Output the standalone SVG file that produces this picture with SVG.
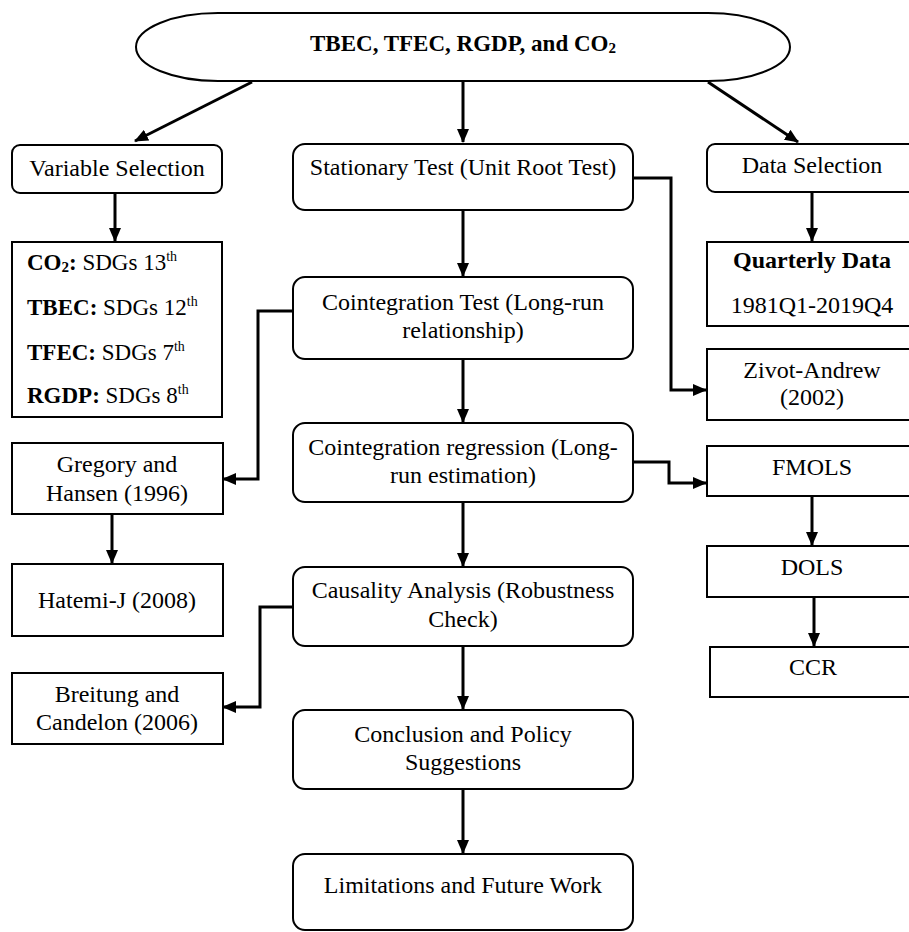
<svg xmlns="http://www.w3.org/2000/svg" width="909" height="932" viewBox="0 0 909 932">
<defs>
<style>
.b{fill:#fff;stroke:#000;stroke-width:2}
.t{font-family:"Liberation Serif","Times New Roman",serif;font-size:24px;fill:#000;text-anchor:middle}
.h{font-size:23px}
.l{font-family:"Liberation Serif","Times New Roman",serif;font-size:23px;fill:#000}
.bold{font-weight:bold}
.sup{font-size:14px}
.c{fill:none;stroke:#000;stroke-width:3}
</style>
<marker id="ah" markerUnits="userSpaceOnUse" markerWidth="14" markerHeight="12" refX="13" refY="6" orient="auto">
<path d="M0,0 L14,6 L0,12 Z" fill="#000"/>
</marker>
</defs>
<rect width="909" height="932" fill="#fff"/>

<g id="connectors">
<line class="c" x1="252" y1="82" x2="135" y2="141" marker-end="url(#ah)"/>
<line class="c" x1="463" y1="81" x2="463" y2="142" marker-end="url(#ah)"/>
<line class="c" x1="708" y1="82" x2="798" y2="142" marker-end="url(#ah)"/>
<line class="c" x1="115" y1="193" x2="115" y2="241" marker-end="url(#ah)"/>
<line class="c" x1="812" y1="192" x2="812" y2="241" marker-end="url(#ah)"/>
<line class="c" x1="463" y1="210" x2="463" y2="276" marker-end="url(#ah)"/>
<path class="c" d="M633,178 H671 V390 H706" marker-end="url(#ah)"/>
<path class="c" d="M293,311 H258 V479 H223" marker-end="url(#ah)"/>
<line class="c" x1="463" y1="359" x2="463" y2="422" marker-end="url(#ah)"/>
<path class="c" d="M633,462 H669 V483 H706" marker-end="url(#ah)"/>
<line class="c" x1="112" y1="514" x2="112" y2="563" marker-end="url(#ah)"/>
<line class="c" x1="812" y1="496" x2="812" y2="545" marker-end="url(#ah)"/>
<line class="c" x1="814" y1="597" x2="814" y2="646" marker-end="url(#ah)"/>
<line class="c" x1="463" y1="502" x2="463" y2="566" marker-end="url(#ah)"/>
<path class="c" d="M293,607 H260 V707 H223" marker-end="url(#ah)"/>
<line class="c" x1="463" y1="646" x2="463" y2="709" marker-end="url(#ah)"/>
<line class="c" x1="463" y1="789" x2="463" y2="853" marker-end="url(#ah)"/>
</g>

<g id="title">
<rect class="b" x="136" y="13" width="654" height="68" rx="82" ry="34"/>
<text class="t h bold" x="463" y="51">TBEC, TFEC, RGDP, and CO<tspan font-size="15" dy="2">2</tspan></text>
</g>

<g id="variable-selection">
<rect class="b" x="12" y="145" width="210" height="48" rx="8"/>
<text class="t" x="117" y="176">Variable Selection</text>
</g>

<g id="sdgs">
<rect class="b" x="12" y="242" width="210" height="175"/>
<text class="l" x="27" y="270"><tspan class="bold">CO</tspan><tspan class="bold" font-size="15" dy="2">2</tspan><tspan class="bold" dy="-2">:</tspan> SDGs 13<tspan class="sup" dy="-9">th</tspan></text>
<text class="l" x="27" y="315"><tspan class="bold">TBEC:</tspan> SDGs 12<tspan class="sup" dy="-9">th</tspan></text>
<text class="l" x="27" y="360"><tspan class="bold">TFEC:</tspan> SDGs 7<tspan class="sup" dy="-9">th</tspan></text>
<text class="l" x="27" y="403"><tspan class="bold">RGDP:</tspan> SDGs 8<tspan class="sup" dy="-9">th</tspan></text>
</g>

<g id="gregory">
<rect class="b" x="12" y="443" width="211" height="71"/>
<text class="t" x="117" y="472">Gregory and</text>
<text class="t" x="117" y="501">Hansen (1996)</text>
</g>

<g id="hatemi">
<rect class="b" x="12" y="564" width="211" height="72"/>
<text class="t" x="117" y="608">Hatemi-J (2008)</text>
</g>

<g id="breitung">
<rect class="b" x="12" y="673" width="211" height="71"/>
<text class="t" x="117" y="702">Breitung and</text>
<text class="t" x="117" y="730">Candelon (2006)</text>
</g>

<g id="stationary">
<rect class="b" x="293" y="144" width="340" height="66" rx="12"/>
<text class="t" x="463" y="175">Stationary Test (Unit Root Test)</text>
</g>

<g id="coint-test">
<rect class="b" x="293" y="277" width="340" height="82" rx="12"/>
<text class="t" x="463" y="310">Cointegration Test (Long-run</text>
<text class="t" x="463" y="338">relationship)</text>
</g>

<g id="coint-reg">
<rect class="b" x="293" y="423" width="340" height="79" rx="12"/>
<text class="t" x="463" y="455">Cointegration regression (Long-</text>
<text class="t" x="463" y="483">run estimation)</text>
</g>

<g id="causality">
<rect class="b" x="293" y="567" width="340" height="79" rx="12"/>
<text class="t" x="463" y="598">Causality Analysis (Robustness</text>
<text class="t" x="463" y="627">Check)</text>
</g>

<g id="conclusion">
<rect class="b" x="293" y="710" width="340" height="79" rx="12"/>
<text class="t" x="463" y="742">Conclusion and Policy</text>
<text class="t" x="463" y="770">Suggestions</text>
</g>

<g id="limitations">
<rect class="b" x="293" y="854" width="340" height="76" rx="12"/>
<text class="t" x="463" y="893">Limitations and Future Work</text>
</g>

<g id="data-selection">
<rect class="b" x="707" y="144" width="210" height="48" rx="8"/>
<text class="t" x="812" y="173">Data Selection</text>
</g>

<g id="quarterly">
<rect class="b" x="707" y="242" width="210" height="84"/>
<text class="t bold" x="812" y="268">Quarterly Data</text>
<text class="t" x="812" y="313">1981Q1-2019Q4</text>
</g>

<g id="zivot">
<rect class="b" x="707" y="349" width="210" height="71"/>
<text class="t" x="812" y="378">Zivot-Andrew</text>
<text class="t" x="812" y="405">(2002)</text>
</g>

<g id="fmols">
<rect class="b" x="707" y="446" width="210" height="50"/>
<text class="t" x="812" y="475">FMOLS</text>
</g>

<g id="dols">
<rect class="b" x="707" y="546" width="210" height="51"/>
<text class="t" x="812" y="575">DOLS</text>
</g>

<g id="ccr">
<rect class="b" x="710" y="647" width="210" height="50"/>
<text class="t" x="813" y="675">CCR</text>
</g>
</svg>
